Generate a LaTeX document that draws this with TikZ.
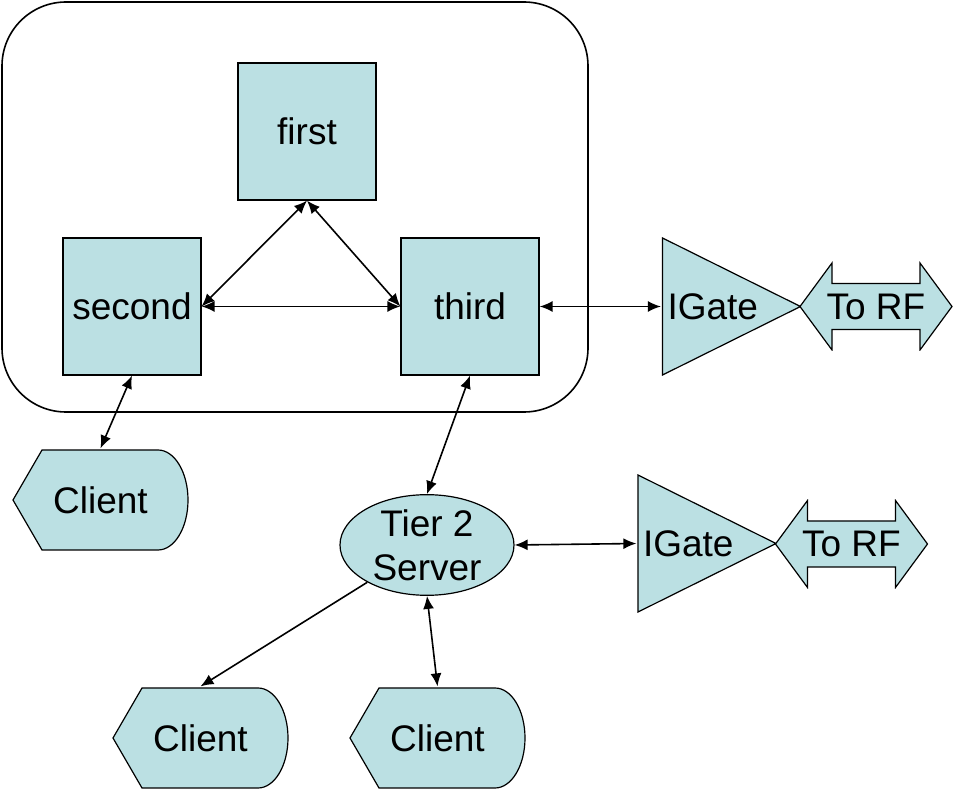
\documentclass[tikz,border=0pt]{standalone}
\usepackage{fontspec}
\setmainfont{Liberation Sans}
\usetikzlibrary{shapes.geometric,arrows.meta}
\definecolor{lblue}{RGB}{187,224,227}

\begin{document}
\begin{tikzpicture}[<->, >={Latex[length = 6.5pt, width = 5.5pt]},
                    x = 0.5pt, y = -0.5pt, semithick,
                    font = \fontsize{18.5}{22}\selectfont,
                    every edge/.append style = {thick},
                    box/.style = {rectangle,
                                  draw,
                                  fill = lblue,
                                  minimum width = 69pt,
                                  minimum height = 68.5pt},
                    server/.style = {ellipse,
                                     draw,
                                     fill = lblue,
                                     inner sep = 0pt,
                                     align = center,
                                     minimum width = 87pt,
                                     minimum height = 50pt},
                    client/.style = {rectangle,
                                     inner sep = 0pt,
                                     minimum width = 89pt,
                                     minimum height = 51pt,
                                     path picture = {
                                       \draw[-, fill = lblue]
                                         ([xshift = -43.75pt]path picture bounding box.center)
                                         -- ++(14.5pt,25pt) -- ++(58pt,0pt)
                                         arc[start angle = 90, end angle = -90,
                                             x radius = 15pt, y radius = 25pt]
                                         -- ++(-58pt,0pt) -- cycle;}},
                    igate/.style = {rectangle,
                                    inner sep = 0pt,
                                    inner xsep = 2.5pt,
                                    text width = 64pt,
                                    align = left,
                                    minimum width = 70pt,
                                    minimum height = 70pt,
                                    path picture = {
                                      \draw[-, fill = lblue]
                                        ([shift = {(-34.5pt,34.25pt)}]path picture bounding box.center)
                                        -- ++(69pt,-34.25pt) -- ++(-69pt,-34.25pt) -- cycle;}},
                    torf/.style = {rectangle,
                                   inner sep = 0pt,
                                   minimum width = 77pt,
                                   minimum height = 44.5pt,
                                   path picture = {
                                     \draw[-, fill = lblue]
                                       ([xshift = -38pt]path picture bounding box.center)
                                       -- ++(16pt,21.75pt) -- ++(0pt,-10.25pt)
                                       -- ++(44pt,0pt) -- ++(0pt,10.25pt)
                                       -- ++(16pt,-21.75pt) -- ++(-16pt,-21.75pt)
                                       -- ++(0pt,10.25pt) -- ++(-44pt,0pt)
                                       -- ++(0pt,-10.25pt) -- cycle;}}]

\useasboundingbox (0,0) rectangle (955,791);

% the group of three servers
\draw[-, thick, rounded corners = 32pt] (2,2) rectangle (588,412);

\node[box] (fst) at (307,131.5) {first};
\node[box] (snd) at (132,306.5) {second};
\node[box] (thd) at (470,306.5) {third};

\node[igate] (ig1) at (731.5,306.5) {IGate};
\node[torf]  (rf1) at (876,306.5)   {To RF};

\node[client] (cl1) at (100.5,500) {Client};
\node[server] (srv) at (427,545)   {Tier 2\\Server};

\node[igate] (ig2) at (707,543.5) {IGate};
\node[torf]  (rf2) at (851.5,544) {To RF};

\node[client] (cl2) at (200.5,738) {Client};
\node[client] (cl3) at (437.5,738) {Client};

\path (fst.south) edge (snd.east);
\path (fst.south) edge (thd.west);
\path (snd.east)  edge (thd.west);
\path (thd.east)  edge (ig1.west);

\path (snd.south) edge (cl1.north);
\path (thd.south) edge (srv.north);
\path (srv.east)  edge (ig2.west);

\path (srv)       edge [->] (cl2.north);
\path (srv.south) edge (cl3.north);

\end{tikzpicture}
\end{document}
